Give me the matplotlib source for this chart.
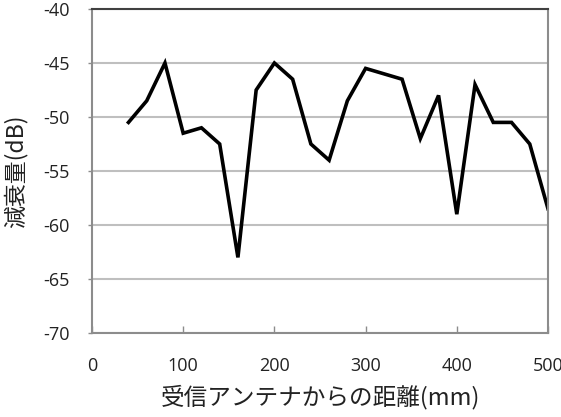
import matplotlib
matplotlib.use("Agg")
import matplotlib.pyplot as plt

distance_mm = [40, 60, 80, 100, 120, 140, 160, 180, 200, 220, 240, 260,
               280, 300, 320, 340, 360, 380, 400, 420, 440, 460, 480, 500]
attenuation_db = [-50.5, -48.5, -45, -51.5, -51, -52.5, -63, -47.5, -45, -46.5, -52.5, -54,
                  -48.5, -45.5, -46, -46.5, -52, -48, -59, -47, -50.5, -50.5, -52.5, -58.5]
x_ticks = [0, 100, 200, 300, 400, 500]
y_ticks = [-70, -65, -60, -55, -50, -45, -40]

plt.rcParams['font.family'] = ['Open Sans', 'Noto Sans CJK JP', 'DejaVu Sans']

fig = plt.figure(figsize=(5.61, 4.17), dpi=100)
ax = fig.add_axes([92/561, (417-333)/417, 456/561, 324/417])

ax.plot(distance_mm, attenuation_db, color='black', linewidth=2.6, solid_joinstyle='miter')

ax.set_xlim(0, 500)
ax.set_ylim(-70, -40)
ax.set_xticks(x_ticks)
ax.set_yticks(y_ticks)
ax.set_xticklabels([str(v) for v in x_ticks])
ax.set_yticklabels([str(v) for v in y_ticks])
ax.yaxis.grid(True, color='#bfbfbf', linewidth=1.5)
ax.set_axisbelow(True)

for s in ['left', 'bottom', 'right']:
    ax.spines[s].set_color('#8c8c8c')
    ax.spines[s].set_linewidth(1.5)
ax.spines['top'].set_color('#404040')
ax.spines['top'].set_linewidth(1.5)

ax.tick_params(axis='x', direction='in', length=5, width=1, color='#8c8c8c',
               labelsize=13, pad=17, labelcolor='#222222')
ax.tick_params(axis='y', direction='out', length=3, width=1, color='#8c8c8c',
               labelsize=13, pad=13, labelcolor='#222222')

ax.set_xlabel('受信アンテナからの距離(mm)', fontsize=17,
              family=['Noto Sans CJK JP', 'DejaVu Sans'], labelpad=7, color='#222222')
ax.set_ylabel('減衰量(dB)', fontsize=16.5,
              family=['Noto Sans CJK JP', 'DejaVu Sans'], labelpad=11, color='#222222')

fig.savefig('out.png', dpi=100)
